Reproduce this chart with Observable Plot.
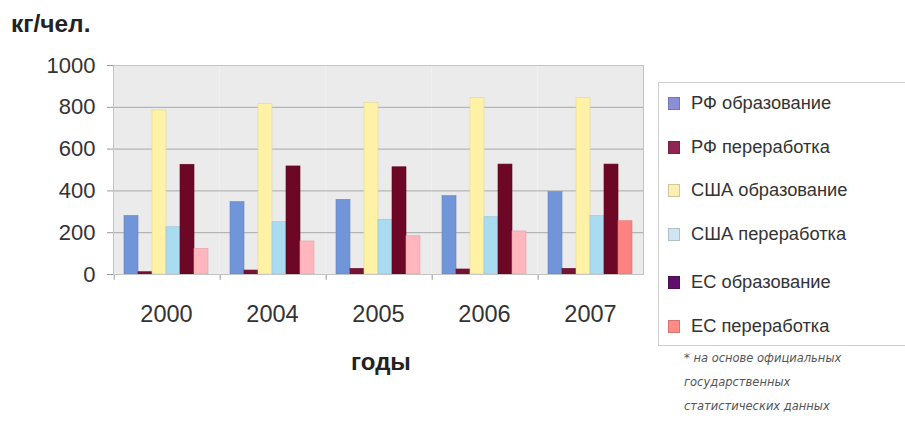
<!DOCTYPE html>
<html><head><meta charset="utf-8">
<script src="https://cdn.jsdelivr.net/npm/d3@7"></script>
<script src="https://cdn.jsdelivr.net/npm/@observablehq/plot@0.6"></script>
<style>
body{margin:0;background:#fff;font-family:"Liberation Sans",Arial,sans-serif;}
#wrap{position:relative;width:905px;height:422px;overflow:hidden;background:#fff;}
#chart{position:absolute;left:0;top:0;}
#unit{position:absolute;left:11px;top:12px;line-height:1;font-weight:bold;font-size:24.5px;color:#222;}
#xlab{position:absolute;left:331px;top:350px;width:100px;line-height:1;text-align:center;font-weight:bold;font-size:24px;color:#222;}
#legend{position:absolute;left:658px;top:82px;width:260px;height:264px;border:1px solid #cfcfcf;box-sizing:border-box;}
.item{position:absolute;left:9px;height:20px;display:flex;align-items:center;font-size:18.3px;color:#333;white-space:nowrap;}
.sw{width:12px;height:13px;margin-right:11px;box-sizing:border-box;}
#note{position:absolute;left:684px;top:346px;font-family:"DejaVu Sans",sans-serif;font-style:italic;font-size:11.5px;line-height:24px;color:#555;}
</style></head>
<body><div id="wrap"><div id="chart"></div><div id="unit">кг/чел.</div><div id="xlab">годы</div><div id="legend"></div><div id="note"></div></div>
<script>
const years = ["2000","2004","2005","2006","2007"];
const series = ["РФ образование","РФ переработка","США образование","США переработка","ЕС образование","ЕС переработка"];
const rfEdu  = [280, 346, 357, 375, 394];
const rfProc = [11, 19, 27, 24, 27];
const usEdu  = [785, 817, 820, 844, 844];
const usProc = [226, 250, 262, 274, 279];
const euEdu  = [525, 517, 513, 526, 526];
const euProc = [123, 158, 183, 206, 255];
const yTicks = [0, 200, 400, 600, 800, 1000];
const noteLines = ["* на основе официальных", "государственных", "статистических данных"];

const colors = ["#7195d9", "#761334", "#fff2a6", "#aadcf1", "#6c0725", "#ffb6bd"];
const legendColors = ["#8a8fd8", "#8e2552", "#fdeeb4", "#cfe6f2", "#5e0f6c", "#ff8a86"];
const valuesBySeries = [rfEdu, rfProc, usEdu, usProc, euEdu, euProc];

const data = [];
years.forEach((y, i) => series.forEach((s, j) => data.push({year: y, series: s, value: valuesBySeries[j][i], idx: j})));
const fillOf = d => (d.idx === 5 && d.year === "2007") ? "#ff8282" : colors[d.idx];

const plot = Plot.plot({
  width: 660, height: 400,
  marginTop: 65, marginBottom: 126, marginLeft: 112, marginRight: 17,
  style: {fontFamily: "Liberation Sans, Arial, sans-serif", background: "transparent"},
  fx: {domain: years, padding: 0, label: null},
  x: {domain: series, axis: null, paddingInner: 0, paddingOuter: 0.71},
  y: {domain: [0, 1000], label: null},
  marks: [
    Plot.frame({fill: "#ebebeb", stroke: null}),
    Plot.ruleY([200, 400, 600, 800], {stroke: "#a8a8a8", strokeWidth: 1}),
    Plot.ruleY([1000], {stroke: "#d0d0d0", strokeWidth: 1}),
    Plot.barY(data, {fx: "year", x: "series", y: "value", fill: fillOf, stroke: d => d3.color(fillOf(d)).darker(0.35).formatHex(), strokeWidth: 0.6}),
    Plot.ruleY([0], {stroke: "#8a8a8a", strokeWidth: 1.2}),
    Plot.ruleX([series[0]], {y1: 0, y2: -28, stroke: "#999", dx: -17.3}),
    Plot.frame({facet: "super", stroke: "#c4c4c4", fill: null}),
    Plot.axisY({ticks: yTicks, tickFormat: d => String(d), tickSize: 6, tickPadding: 12, fontSize: 22, stroke: "#999", color: "#333", label: null}),
    Plot.axisFx({anchor: "bottom", tickSize: 0, tickPadding: 31, fontSize: 23.5, color: "#333", label: null})
  ]
});
document.getElementById("chart").appendChild(plot);

const leg = document.getElementById("legend");
const tops = [10, 54, 97, 141, 189, 233];
series.forEach((s, j) => {
  const it = document.createElement("div");
  it.className = "item";
  it.style.top = tops[j] + "px";
  it.innerHTML = `<span class="sw" style="background:${legendColors[j]};border:1px solid ${d3.color(legendColors[j]).darker(0.5)}"></span>${s}`;
  leg.appendChild(it);
});
document.getElementById("note").innerHTML = noteLines.join("<br>");
</script></body></html>
